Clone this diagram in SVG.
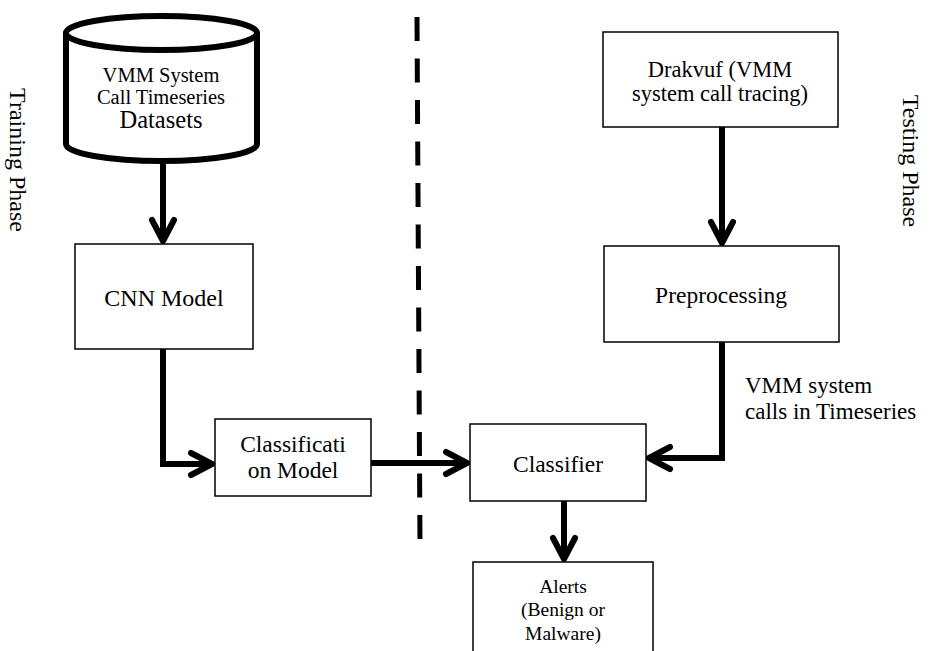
<svg xmlns="http://www.w3.org/2000/svg" width="935" height="651" viewBox="0 0 935 651">
<style>
  text { font-family: "Liberation Serif", "Times New Roman", serif; fill: #000; }
  .box { fill: #fff; stroke: #000; stroke-width: 1.5; }
  .conn { fill: none; stroke: #000; stroke-width: 6; stroke-linejoin: miter; marker-end: url(#arr); }
  .c { text-anchor: middle; }
</style>
<defs>
  <marker id="arr" markerUnits="userSpaceOnUse" orient="auto" overflow="visible" refX="0" refY="0" markerWidth="10" markerHeight="10">
    <path d="M -21 -11 L 0 0 L -21 11" fill="none" stroke="#000" stroke-width="6" stroke-linecap="round" stroke-linejoin="round"/>
  </marker>
</defs>
<rect width="935" height="651" fill="#fff"/>

<g id="connectors">
  <path class="conn" d="M163 164 V241"/>
  <path class="conn" d="M163 349 V464 H212"/>
  <path class="conn" d="M371 463 H467"/>
  <path class="conn" d="M722 127 V243"/>
  <path class="conn" d="M722 342 V458 H649"/>
  <path class="conn" d="M564 501 V559"/>
</g>

<g id="divider">
  <line x1="417" y1="17" x2="420" y2="545" stroke="#000" stroke-width="5" stroke-dasharray="24 17.5"/>
</g>

<g id="datasets">
  <path d="M66 33 V144 A95.5 17 0 0 0 257 144 V33" fill="#fff" stroke="#000" stroke-width="6"/>
  <ellipse cx="161.5" cy="33" rx="95.5" ry="17" fill="#fff" stroke="#000" stroke-width="6"/>
  <text class="c" x="161" y="82" font-size="20.5">VMM System</text>
  <text class="c" x="161" y="104" font-size="20.5">Call Timeseries</text>
  <text class="c" x="161" y="128" font-size="24.5">Datasets</text>
</g>

<g id="cnn">
  <rect class="box" x="75" y="244" width="178" height="105"/>
  <text class="c" x="164" y="306" font-size="24">CNN Model</text>
</g>

<g id="classification">
  <rect class="box" x="215" y="419" width="156" height="77"/>
  <text class="c" x="293" y="452" font-size="23.5">Classificati</text>
  <text class="c" x="293" y="478" font-size="23.5">on Model</text>
</g>

<g id="drakvuf">
  <rect class="box" x="603" y="32" width="235" height="95"/>
  <text class="c" x="720" y="77" font-size="22.5">Drakvuf (VMM</text>
  <text class="c" x="720" y="101" font-size="22.5">system call tracing)</text>
</g>

<g id="preprocessing">
  <rect class="box" x="604" y="246" width="235" height="96"/>
  <text class="c" x="721" y="303" font-size="23.5">Preprocessing</text>
</g>

<g id="classifier">
  <rect class="box" x="470" y="424" width="176" height="77"/>
  <text class="c" x="558" y="472" font-size="23.5">Classifier</text>
</g>

<g id="alerts">
  <rect class="box" x="473" y="562" width="180" height="100"/>
  <text class="c" x="563" y="593" font-size="19.5">Alerts</text>
  <text class="c" x="563" y="616" font-size="19.5">(Benign or</text>
  <text class="c" x="563" y="640" font-size="19.5">Malware)</text>
</g>

<g id="label-timeseries">
  <text x="745" y="393" font-size="23">VMM system</text>
  <text x="745" y="419" font-size="23">calls in Timeseries</text>
</g>

<g id="phase-labels">
  <text class="c" font-size="24" transform="translate(10,160) rotate(90)">Training Phase</text>
  <text class="c" font-size="24" transform="translate(903,161) rotate(90)">Testing Phase</text>
</g>
</svg>
